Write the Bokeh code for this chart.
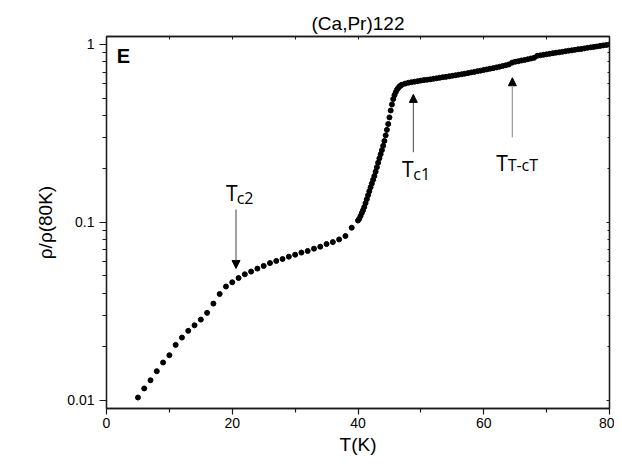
from bokeh.plotting import figure
from bokeh.models import (LinearAxis, LogAxis, FixedTicker, Arrow, NormalHead,
                          Label, Range1d)
from bokeh.embed import file_html
from bokeh.resources import INLINE

# ---- data (T in K, log10 of rho/rho(80K)) ----
T_low = [5, 6, 7, 8, 9, 10, 11, 12, 13, 14, 15, 16, 17, 18, 19, 20, 21, 22,
         23, 24, 25, 26, 27, 28, 29, 30, 31, 32, 33, 34, 35, 36, 37, 38, 39]
log_rho_low = [-1.985, -1.934, -1.888, -1.837, -1.788, -1.747, -1.689, -1.648,
               -1.610, -1.579, -1.547, -1.509, -1.457, -1.403, -1.361, -1.337,
               -1.313, -1.292, -1.277, -1.260, -1.245, -1.229, -1.217, -1.206,
               -1.193, -1.182, -1.170, -1.161, -1.148, -1.137, -1.122, -1.111,
               -1.096, -1.077, -1.030]

T_trans = [40.0, 40.2, 40.4, 40.6, 40.8, 41.0, 41.2, 41.4, 41.6, 41.8, 42.0,
           42.2, 42.4, 42.6, 42.8, 43.0, 43.2, 43.4, 43.6, 43.8, 44.0, 44.2,
           44.4, 44.6, 44.8, 45.0, 45.2, 45.4, 45.6, 45.8, 46.0, 46.2, 46.4,
           46.6, 46.8, 47.0]
log_rho_trans = [-0.990, -0.980, -0.965, -0.948, -0.932, -0.914, -0.892, -0.870,
                 -0.847, -0.825, -0.803, -0.782, -0.761, -0.740, -0.715, -0.690,
                 -0.665, -0.640, -0.617, -0.594, -0.570, -0.542, -0.511, -0.480,
                 -0.447, -0.410, -0.371, -0.337, -0.307, -0.285, -0.268, -0.254,
                 -0.244, -0.236, -0.230, -0.226]

T_norm = [47.5, 48.0, 48.5, 49.0, 49.5, 50.0, 50.5, 51.0, 51.5, 52.0, 52.5,
          53.0, 53.5, 54.0, 54.5, 55.0, 55.5, 56.0, 56.5, 57.0, 57.5, 58.0,
          58.5, 59.0, 59.5, 60.0, 60.5, 61.0, 61.5, 62.0, 62.5, 63.0, 63.5,
          64.0, 64.5, 65.0, 65.5, 66.0, 66.5, 67.0, 67.5, 68.0, 68.5, 69.0,
          69.5, 70.0, 70.5, 71.0, 71.5, 72.0, 72.5, 73.0, 73.5, 74.0, 74.5,
          75.0, 75.5, 76.0, 76.5, 77.0, 77.5, 78.0, 78.5, 79.0, 79.5, 80.0]
log_rho_norm = [-0.220, -0.215, -0.212, -0.209, -0.206, -0.203, -0.200, -0.198,
                -0.196, -0.193, -0.190, -0.187, -0.184, -0.182, -0.179, -0.176,
                -0.173, -0.170, -0.167, -0.164, -0.161, -0.157, -0.154, -0.150,
                -0.147, -0.143, -0.140, -0.136, -0.133, -0.129, -0.125, -0.121,
                -0.117, -0.112, -0.102, -0.097, -0.094, -0.090, -0.087, -0.083,
                -0.079, -0.075, -0.064, -0.061, -0.058, -0.055, -0.052, -0.049,
                -0.046, -0.044, -0.041, -0.038, -0.035, -0.033, -0.030, -0.027,
                -0.025, -0.022, -0.019, -0.016, -0.014, -0.011, -0.008, -0.005,
                -0.003, 0.000]

x_major = [0, 20, 40, 60, 80]
x_minor = [10, 30, 50, 70]
y_major = [0.01, 0.1, 1]
y_major_labels = ["0.01", "0.1", "1"]
y_minor = [0.02, 0.03, 0.04, 0.05, 0.06, 0.07, 0.08, 0.09,
           0.2, 0.3, 0.4, 0.5, 0.6, 0.7, 0.8, 0.9]

T_all = T_low + T_trans + T_norm
rho_all = [10 ** v for v in (log_rho_low + log_rho_trans + log_rho_norm)]

AX = "#1a1a1a"
SANS = "Liberation Sans"
ANN = "Open Sans"

p = figure(width=614, height=462, output_backend="svg", toolbar_location=None,
           y_axis_type="log", x_range=Range1d(0, 80),
           y_range=Range1d(0.00898, 1.109),
           min_border_left=106, min_border_right=5, min_border_top=36,
           min_border_bottom=54, background_fill_color="white",
           border_fill_color="white")
p.grid.visible = False
p.outline_line_color = AX
p.outline_line_width = 1.3

p.title.text = "(Ca,Pr)122"
p.title.align = "center"
p.title.offset = 14
p.title.text_font = SANS
p.title.text_font_size = "19px"
p.title.text_font_style = "normal"
p.title.text_color = "black"
p.title.standoff = 5

# bottom axis
xa = p.xaxis[0]
xa.ticker = FixedTicker(ticks=x_major, minor_ticks=x_minor)
xa.axis_label = "T(K)"
# left axis
ya = p.yaxis[0]
ya.ticker = FixedTicker(ticks=y_major, minor_ticks=y_minor)
ya.major_label_overrides = dict(zip(y_major, y_major_labels))
ya.axis_label = "\u03c1/\u03c1(80K)"

for ax in (xa, ya):
    ax.axis_line_color = AX
    ax.axis_line_width = 1.3
    ax.major_tick_line_color = AX
    ax.minor_tick_line_color = AX
    ax.major_tick_line_width = 1.2
    ax.minor_tick_line_width = 1.2
    ax.major_tick_in = 0
    ax.major_tick_out = 6
    ax.minor_tick_in = 0
    ax.minor_tick_out = 4
    ax.major_label_text_font = SANS
    ax.major_label_text_font_size = "14px"
    ax.major_label_text_color = "black"
    ax.axis_label_text_font = SANS
    ax.axis_label_text_font_size = "19px"
    ax.axis_label_text_font_style = "normal"
    ax.axis_label_text_color = "black"
ya.major_tick_out = 7
xa.major_label_standoff = 3
xa.axis_label_standoff = 3
ya.major_label_standoff = 5
ya.axis_label_standoff = 8

# top and right axes: ticks only, pointing inward
top = LinearAxis(ticker=FixedTicker(ticks=x_major + x_minor),
                 major_label_overrides={t: "" for t in x_major + x_minor})
right = LogAxis(ticker=FixedTicker(ticks=y_major, minor_ticks=y_minor),
                major_label_overrides={t: "" for t in y_major})
for ax in (top, right):
    ax.axis_line_color = AX
    ax.axis_line_width = 1.3
    ax.major_tick_line_color = AX
    ax.minor_tick_line_color = AX
    ax.major_tick_in = 3
    ax.major_tick_out = 0
    ax.minor_tick_in = 2
    ax.minor_tick_out = 0
    ax.major_label_standoff = 0
p.add_layout(top, "above")
p.add_layout(right, "right")

p.scatter(T_all, rho_all, size=5, color="black")

# arrows
p.add_layout(Arrow(end=NormalHead(size=8, fill_color="black", line_color="black",
                                  line_width=1),
                   x_start=20.6, y_start=0.118, x_end=20.6, y_end=0.055,
                   line_color="#444444", line_width=1))
p.add_layout(Arrow(end=NormalHead(size=8, fill_color="black", line_color="black",
                                  line_width=1),
                   x_start=48.8, y_start=0.248, x_end=48.8, y_end=0.524,
                   line_color="#444444", line_width=1))
p.add_layout(Arrow(end=NormalHead(size=8, fill_color="black", line_color="black",
                                  line_width=1),
                   x_start=64.55, y_start=0.301, x_end=64.55, y_end=0.650,
                   line_color="#a0a0a0", line_width=1.3))

def add_sub_label(x_main, y_main, main, x_sub, y_sub, sub):
    p.add_layout(Label(x=x_main, y=y_main, text=main, text_font=ANN,
                       text_font_size="21px", text_color="black",
                       text_baseline="alphabetic"))
    p.add_layout(Label(x=x_sub, y=y_sub, text=sub, text_font=ANN,
                       text_font_size="16px", text_color="black",
                       text_baseline="alphabetic"))

add_sub_label(19.0, 0.147, "T", 20.7, 0.1365, "c2")
add_sub_label(47.0, 0.1985, "T", 48.8, 0.188, "c1")
add_sub_label(62.0, 0.2165, "T", 63.8, 0.210, "T-cT")

p.add_layout(Label(x=1.64, y=0.864, text="E", text_font=SANS,
                   text_font_size="20px", text_font_style="bold",
                   text_color="black", text_baseline="alphabetic"))

open("out.html", "w").write(file_html(p, INLINE))
